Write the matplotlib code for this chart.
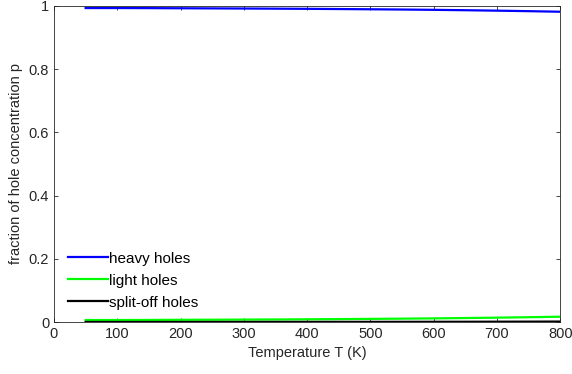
import matplotlib
matplotlib.use('Agg')
import matplotlib.pyplot as plt

plt.rcParams['font.family'] = ['Liberation Sans', 'DejaVu Sans']

# Datos
temperatura = [50, 100, 150, 200, 250, 300, 350, 400, 450, 500, 550, 600, 650, 700, 750, 800]
heavy = [0.9935, 0.9935, 0.9932, 0.9928, 0.9924, 0.9920, 0.9915, 0.9910, 0.9903, 0.9896,
         0.9888, 0.9878, 0.9866, 0.9852, 0.9836, 0.9818]
light = [0.0063, 0.0063, 0.0066, 0.0070, 0.0073, 0.0077, 0.0081, 0.0086, 0.0092, 0.0099,
         0.0106, 0.0115, 0.0126, 0.0138, 0.0152, 0.0168]
split_off = [0.0002, 0.0002, 0.0002, 0.0002, 0.0003, 0.0003, 0.0004, 0.0004, 0.0005, 0.0005,
             0.0006, 0.0007, 0.0008, 0.0010, 0.0012, 0.0014]

fig = plt.figure(figsize=(5.72, 3.74), dpi=100)
ax = fig.add_axes([0.0944, 0.139, 0.885, 0.845])

ax.plot(temperatura, heavy, color='#0000ff', linewidth=1.6, label='heavy holes')
ax.plot(temperatura, light, color='#00ff00', linewidth=1.6, label='light holes')
ax.plot(temperatura, split_off, color='black', linewidth=1.6, label='split-off holes')

ax.set_xlim(0, 800)
ax.set_ylim(0, 1)
ax.set_xticks(range(0, 801, 100))
ax.set_yticks([0, 0.2, 0.4, 0.6, 0.8, 1])
ax.set_yticklabels(['0', '0.2', '0.4', '0.6', '0.8', '1'])
ax.tick_params(direction='in', top=True, right=True, labelsize=10.5, length=3, width=0.6,
               colors='#262626')
for s in ax.spines.values():
    s.set_linewidth(0.6)
    s.set_color('#262626')

ax.set_xlabel('Temperature T (K)', fontsize=10.5, color='#262626')
ax.set_ylabel('fraction of hole concentration p', fontsize=10.5, color='#262626')

ax.legend(loc='lower left', frameon=False, fontsize=11, handlelength=2.6,
          handletextpad=0.1, labelspacing=0.52, borderaxespad=0.2,
          bbox_to_anchor=(0.01, 0.01))

fig.savefig('out.png', dpi=100)
